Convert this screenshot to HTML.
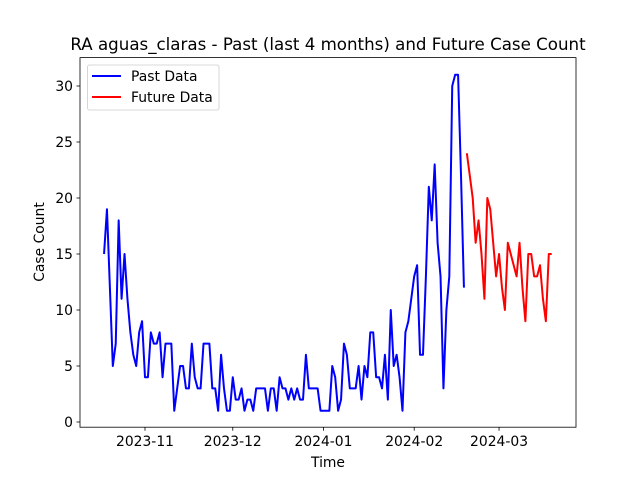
<!DOCTYPE html>
<html><head><meta charset="utf-8"><style>
html,body{margin:0;padding:0;background:#fff;}
svg{display:block;font-family:"DejaVu Sans","Liberation Sans",sans-serif;}
</style></head><body>
<svg id="chart" width="640" height="480" viewBox="0 0 640 480">
<rect x="0" y="0" width="640" height="480" fill="#fff"/>
<text x="328" y="50" text-anchor="middle" font-size="16.67" fill="#000">RA aguas_claras - Past (last 4 months) and Future Case Count</text>
<g id="plot"></g>
<rect x="80" y="57.6" width="496" height="369.6" fill="none" stroke="#000" stroke-width="0.8"/>
<text x="328" y="467" text-anchor="middle" font-size="13.89">Time</text>
<text x="0" y="0" transform="translate(44,242) rotate(-90)" text-anchor="middle" font-size="13.89">Case Count</text>
<g>
<rect x="87.5" y="65" width="131.5" height="45" rx="2" fill="#fff" fill-opacity="0.8" stroke="#ccc" stroke-width="0.8"/>
<line x1="92" y1="76" x2="121" y2="76" stroke="#0000ff" stroke-width="2"/>
<text x="131" y="81" font-size="13.89">Past Data</text>
<line x1="92" y1="97" x2="121" y2="97" stroke="#ff0000" stroke-width="2"/>
<text x="131" y="102" font-size="13.89">Future Data</text>
</g>
</svg>
<script>
const pastValues = [15,19,12,5,7,18,11,15,11,8,6,5,8,9,4,4,8,7,7,8,4,7,7,7,1,3,5,5,3,3,7,4,3,3,7,7,7,3,3,1,6,3,1,1,4,2,2,3,1,2,2,1,3,3,3,3,1,3,3,1,4,3,3,2,3,2,3,2,2,6,3,3,3,3,1,1,1,1,5,4,1,2,7,6,3,3,3,5,2,5,4,8,8,4,4,3,6,2,10,5,6,4,1,8,9,11,13,14,6,6,13,21,18,23,16,13,3,10,13,30,31,31,22,12];
const futureValues = [24,22,20,16,18,15,11,20,19,16,13,15,12,10,16,15,14,13,16,12,9,15,15,13,13,14,11,9,15,15];
const startOffsetDays = -14; // 2023-10-18 relative to 2023-11-01
const xTickDays = [0,30,61,92,121];
const xTickLabels = ["2023-11","2023-12","2024-01","2024-02","2024-03"];
const yTickValues = [0,5,10,15,20,25,30];

const NS = "http://www.w3.org/2000/svg";
function xScale(t){ return 145 + t*2.926; }
function yScale(v){ return 422 - v*11.2; }
const svg = document.getElementById('chart');
const plot = document.getElementById('plot');
function mk(tag, attrs){ const e=document.createElementNS(NS,tag); for(const k in attrs) e.setAttribute(k,attrs[k]); return e; }

yTickValues.forEach(v=>{
  const y=yScale(v);
  const t=mk('line',{x1:76.5,y1:y,x2:80,y2:y,stroke:'#000','stroke-width':0.8});
  
  
  svg.appendChild(t);
  const l=mk('text',{x:73,y:y+5,'text-anchor':'end','font-size':13.89});
  
  
  l.textContent=v; svg.appendChild(l);
});
xTickDays.forEach((d,i)=>{
  const x=xScale(d);
  const t=mk('line',{x1:x,y1:427.2,x2:x,y2:430.7,stroke:'#000','stroke-width':0.8});
  
  
  svg.appendChild(t);
  const l=mk('text',{x:x,y:446,'text-anchor':'middle','font-size':13.89});
  
  
  l.textContent=xTickLabels[i]; svg.appendChild(l);
});
function pts(vals, off){ return vals.map((v,i)=>xScale(startOffsetDays+off+i).toFixed(2)+','+yScale(v).toFixed(2)).join(' '); }
const past=mk('polyline',{points:pts(pastValues,0),fill:'none',stroke:'#0000ff','stroke-width':2,'stroke-linejoin':'round'});


plot.appendChild(past);
const fut=mk('polyline',{points:pts(futureValues,pastValues.length),fill:'none',stroke:'#ff0000','stroke-width':2,'stroke-linejoin':'round'});


plot.appendChild(fut);
</script>
</body></html>
